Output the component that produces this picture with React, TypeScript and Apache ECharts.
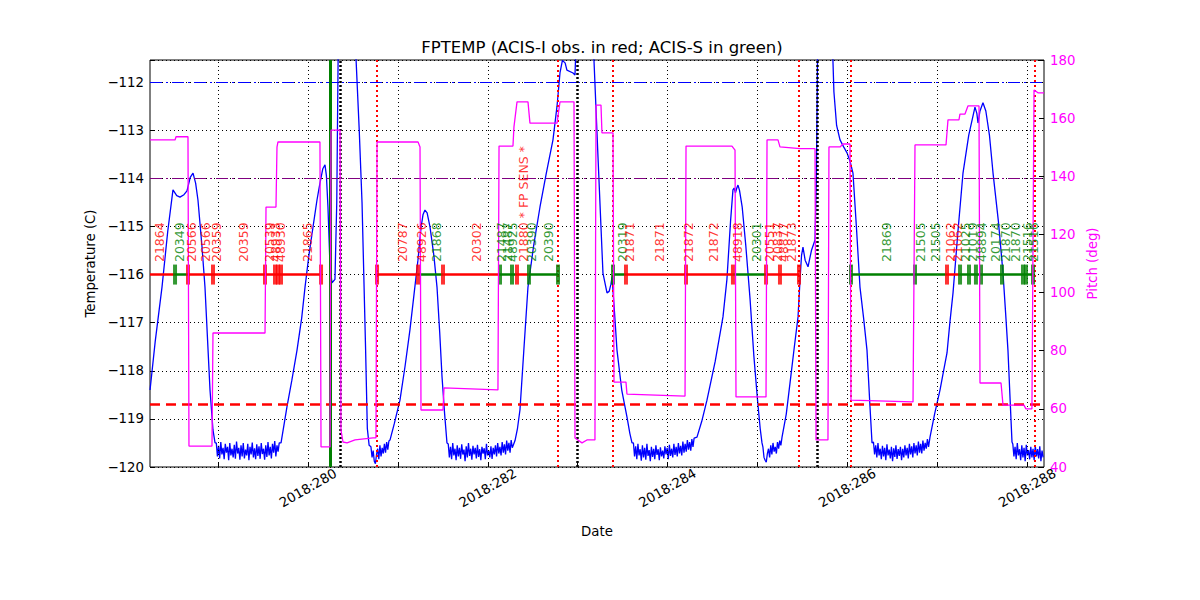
import React, { useEffect, useRef } from 'react';
import * as echarts from 'echarts';

// ---- axes ----
const X_MIN = 278.2425;
const X_MAX = 288.187;
const T_MIN = -120;
const T_MAX = -111.54;
const P_MIN = 40;
const P_MAX = 180;
const dayTicks = [279, 280, 281, 282, 283, 284, 285, 286, 287, 288];
const dayLabels = [280, 282, 284, 286, 288];

// ---- FPTEMP (smooth parts) [day, degC] ----
const tempKnots: [number, number][] = [
  [278.243, -118.4], [278.3, -117.4], [278.376, -116.26], [278.44, -115.1], [278.498, -114.24], [278.54, -114.36],
  [278.576, -114.39], [278.62, -114.34], [278.654, -114.26], [278.69, -113.98], [278.721, -113.89], [278.75, -114.1],
  [278.776, -114.45], [278.82, -115.4], [278.854, -116.26], [278.91, -118.4], [278.943, -119.23], [278.966, -119.5],
  [279.7, -119.5], [279.766, -118.75], [279.82, -118.2], [279.878, -117.57], [279.93, -116.9], [279.967, -116.26],
  [280.01, -115.6], [280.056, -115.01], [280.1, -114.45], [280.133, -114.1], [280.165, -113.8], [280.189, -113.72],
  [280.205, -113.95], [280.222, -114.59], [280.245, -115.84], [280.267, -116.17], [280.3, -116.1], [280.32, -114.5],
  [280.335, -111.5], [280.35, -110.0], [280.45, -109.0], [280.52, -110.5], [280.534, -111.5], [280.57, -113.0],
  [280.601, -114.5], [280.64, -117.5], [280.66, -119.2], [280.68, -119.55],
  [280.912, -119.44], [280.96, -119.1], [281.023, -118.61], [281.08, -117.9], [281.134, -117.15], [281.18, -116.4],
  [281.223, -115.7], [281.257, -115.03], [281.28, -114.75], [281.301, -114.66], [281.325, -114.72], [281.357, -115.01],
  [281.4, -115.6], [281.435, -116.26], [281.465, -117.2], [281.491, -118.13], [281.52, -118.9], [281.546, -119.5],
  [282.303, -119.45], [282.33, -119.2], [282.358, -118.81], [282.4, -117.6], [282.447, -116.26], [282.51, -115.4],
  [282.581, -114.59], [282.65, -113.9], [282.725, -113.2], [282.77, -112.5], [282.803, -111.81], [282.83, -111.55],
  [282.86, -111.6], [282.88, -111.75], [282.948, -111.81], [282.97, -111.85], [282.985, -111.0], [283.0, -110.0],
  [283.1, -109.5], [283.17, -110.5], [283.181, -111.54], [283.226, -113.56], [283.281, -115.97], [283.326, -116.38],
  [283.35, -116.35], [283.37, -116.2], [283.382, -116.05], [283.41, -116.8], [283.437, -117.57], [283.49, -118.4],
  [283.548, -118.96], [283.58, -119.3], [283.604, -119.5],
  [284.327, -119.38], [284.38, -119.05], [284.438, -118.61], [284.53, -117.8], [284.616, -116.88], [284.66, -116.1],
  [284.7, -114.9], [284.727, -114.24], [284.74, -114.2], [284.755, -114.3], [284.77, -114.2], [284.783, -114.14],
  [284.8, -114.25], [284.83, -114.6], [284.87, -115.4], [284.917, -116.5], [284.96, -117.7], [285.0, -118.6],
  [285.03, -119.2], [285.05, -119.5],
  [285.273, -119.38], [285.32, -118.9], [285.362, -118.25], [285.41, -117.5], [285.451, -116.88], [285.473, -116.11],
  [285.49, -115.6], [285.506, -115.43], [285.53, -115.7], [285.562, -115.84], [285.6, -115.5], [285.64, -115.28],
  [285.655, -114.0], [285.67, -111.0], [285.7, -109.5], [285.8, -109.5], [285.83, -111.0], [285.85, -112.2],
  [285.88, -112.9], [285.918, -113.2], [285.96, -113.35], [285.996, -113.47], [286.03, -113.65], [286.062, -113.89],
  [286.1, -115.0], [286.14, -116.26], [286.18, -116.9], [286.218, -117.57], [286.25, -118.7], [286.274, -119.5],
  [286.919, -119.38], [286.97, -118.9], [287.03, -118.4], [287.07, -118.0], [287.108, -117.63], [287.14, -117.0],
  [287.175, -116.38], [287.23, -115.1], [287.286, -113.89], [287.35, -113.1], [287.419, -112.52], [287.44, -112.65],
  [287.453, -112.85], [287.475, -112.6], [287.508, -112.43], [287.54, -112.6], [287.58, -113.1], [287.62, -113.89],
  [287.68, -114.9], [287.731, -115.97], [287.76, -116.8], [287.786, -117.57], [287.81, -118.6], [287.831, -119.48],
];

// ---- FPTEMP (noisy cold parts), one reading every NOISE_STEP day from each start day ----
const NOISE_STEP = 0.0125;
const noiseA_start = 278.98;
const noiseA = [
  -119.5, -119.78, -119.56, -119.82, -119.48, -119.74, -119.6, -119.84, -119.52, -119.7,
  -119.58, -119.86, -119.5, -119.76, -119.62, -119.8, -119.54, -119.83, -119.47, -119.72,
  -119.6, -119.85, -119.55, -119.78, -119.5, -119.82, -119.64, -119.76, -119.52, -119.86,
  -119.58, -119.74, -119.49, -119.8, -119.61, -119.84, -119.53, -119.77, -119.57, -119.83,
  -119.5, -119.73, -119.62, -119.85, -119.55, -119.79, -119.48, -119.76, -119.58, -119.82,
  -119.52, -119.7, -119.46, -119.78, -119.55, -119.68, -119.5,
];
const noiseB_start = 280.7;
const noiseB = [-119.58, -119.8, -119.66, -119.88, -119.93, -119.74, -119.62, -119.84, -119.55, -119.78, -119.6, -119.72, -119.52, -119.7, -119.48, -119.64, -119.46];
const noiseC_start = 281.56;
const noiseC = [
  -119.52, -119.8, -119.58, -119.84, -119.5, -119.76, -119.62, -119.86, -119.55, -119.78,
  -119.6, -119.83, -119.53, -119.74, -119.64, -119.88, -119.57, -119.8, -119.5, -119.77,
  -119.62, -119.85, -119.56, -119.74, -119.6, -119.82, -119.54, -119.79, -119.63, -119.86,
  -119.58, -119.72, -119.61, -119.84, -119.52, -119.76, -119.66, -119.8, -119.57, -119.83,
  -119.6, -119.74, -119.55, -119.78, -119.5, -119.72, -119.58, -119.76, -119.48, -119.7,
  -119.53, -119.74, -119.45, -119.66, -119.5, -119.7, -119.44, -119.6,
];
const noiseD_start = 283.62;
const noiseD = [
  -119.5, -119.78, -119.57, -119.84, -119.52, -119.76, -119.63, -119.87, -119.55, -119.8,
  -119.6, -119.85, -119.52, -119.77, -119.65, -119.88, -119.58, -119.79, -119.62, -119.84,
  -119.55, -119.75, -119.63, -119.86, -119.59, -119.78, -119.66, -119.82, -119.57, -119.74,
  -119.6, -119.84, -119.54, -119.77, -119.62, -119.8, -119.52, -119.75, -119.58, -119.78,
  -119.5, -119.72, -119.56, -119.76, -119.47, -119.7, -119.52, -119.68, -119.44, -119.64,
  -119.48, -119.66, -119.42, -119.58, -119.4,
];
const noiseE_start = 285.06;
const noiseE = [-119.58, -119.8, -119.86, -119.9, -119.72, -119.62, -119.8, -119.55, -119.74, -119.5, -119.68, -119.58, -119.72, -119.48, -119.62, -119.45, -119.55];
const noiseF_start = 286.29;
const noiseF = [
  -119.48, -119.74, -119.55, -119.8, -119.5, -119.76, -119.62, -119.84, -119.56, -119.78,
  -119.6, -119.86, -119.53, -119.76, -119.64, -119.82, -119.58, -119.88, -119.61, -119.79,
  -119.55, -119.83, -119.63, -119.77, -119.58, -119.86, -119.62, -119.8, -119.55, -119.76,
  -119.6, -119.82, -119.52, -119.74, -119.57, -119.8, -119.5, -119.72, -119.55, -119.76,
  -119.47, -119.7, -119.52, -119.72, -119.45, -119.66, -119.5, -119.62, -119.42, -119.58,
];
const noiseG_start = 287.84;
const noiseG = [
  -119.52, -119.78, -119.58, -119.84, -119.5, -119.76, -119.63, -119.86, -119.55, -119.8,
  -119.6, -119.88, -119.54, -119.76, -119.65, -119.84, -119.58, -119.8, -119.62, -119.86,
  -119.56, -119.78, -119.63, -119.82, -119.57, -119.88, -119.66, -119.8,
];

// ---- Pitch [day, deg] ----
const pitchData: [number, number][] = [
  [278.243, 152.5], [278.521, 152.5], [278.532, 153.6], [278.665, 153.6], [278.676, 47.2], [278.932, 47.2],
  [278.943, 86.1], [279.522, 86.1], [279.533, 129.4], [279.644, 129.4], [279.655, 150], [279.666, 151.8],
  [280.133, 151.8], [280.145, 46.9], [280.245, 46.9], [280.256, 155.9], [280.356, 155.9], [280.367, 52.7],
  [280.389, 48.6], [280.434, 48.3], [280.523, 49.3], [280.723, 50.0], [280.756, 50.0], [280.768, 151.8],
  [281.224, 151.8], [281.246, 150.1], [281.257, 59.6], [281.502, 59.6], [281.513, 67.2], [282.113, 66.5],
  [282.125, 150.4], [282.28, 150.4], [282.291, 157.0], [282.325, 165.6], [282.447, 165.6], [282.469, 158.3],
  [282.77, 158.3], [282.803, 165.6], [282.959, 165.6], [282.97, 50.0], [283.048, 48.3], [283.103, 49.3],
  [283.192, 49.3], [283.204, 164.5], [283.259, 164.5], [283.27, 154.9], [283.393, 154.9], [283.404, 69.2],
  [283.537, 69.2], [283.548, 65.1], [284.194, 64.4], [284.205, 150.4], [284.716, 150.4], [284.75, 149.0],
  [284.761, 64.1], [285.095, 64.1], [285.106, 152.5], [285.228, 152.5], [285.25, 150.1], [285.473, 149.5],
  [285.64, 149.5], [285.651, 49.3], [285.784, 49.3], [285.795, 150.1], [285.918, 150.1], [285.951, 151.1],
  [286.029, 151.1], [286.04, 63.0], [286.73, 62.4], [286.752, 150.8], [287.097, 150.8], [287.119, 159.4],
  [287.241, 159.4], [287.252, 161.4], [287.308, 161.4], [287.341, 164.2], [287.464, 164.2], [287.475, 68.9],
  [287.709, 68.9], [287.731, 61.3], [287.964, 61.3], [287.986, 60.0], [288.053, 60.0], [288.076, 169.7],
  [288.12, 168.7], [288.187, 168.7],
];

// ---- events / reference lines ----
const greenEvents = [280.245];
const blackDottedEvents = [280.356, 283.003, 285.662];
const redDottedEvents = [280.756, 282.781, 283.393, 285.462, 286.04, 288.076];
const T_BLUE_LIMIT = -112;
const T_PURPLE_LIMIT = -114;
const T_RED_LIMIT = -118.7;

// ---- observations band ----
const BAND_T = -116;
const LABEL_T = -115.74;
const redSegments: [number, number][] = [
  [278.2425, 278.521], [278.665, 280.145], [280.768, 281.224], [281.502, 282.136], [282.325, 282.458],
  [283.537, 284.727], [285.095, 285.462], [287.108, 287.253],
];
const greenSegments: [number, number][] = [
  [278.521, 278.665], [281.224, 281.502], [282.136, 282.325], [282.458, 282.781], [283.393, 283.537],
  [284.727, 285.095], [286.04, 287.108], [287.253, 288.065],
];
const redBars = [278.665, 278.943, 279.522, 279.633, 279.666, 279.7, 280.145, 280.768, 281.224, 281.502, 282.325,
  283.537, 284.205, 284.727, 285.095, 285.25, 285.462, 287.108];
const greenBars = [278.521, 282.136, 282.269, 282.458, 282.781, 283.393, 286.04, 286.752, 287.253, 287.353, 287.43,
  287.486, 287.72, 287.953, 287.987, 288.065];
const obsLabels: [number, string, string][] = [
  [278.343, '21864', 'r'], [278.576, '20349', 'g'], [278.699, '20566', 'r'], [278.865, '20566', 'r'],
  [278.977, '20359', 'r'], [279.277, '20359', 'r'], [279.577, '20539', 'r'], [279.644, '48933', 'r'],
  [279.689, '48930', 'r'], [280.0, '21865', 'r'],
  [281.046, '20787', 'r'], [281.268, '48926', 'r'], [281.424, '21868', 'g'], [281.869, '20302', 'r'],
  [282.158, '21487', 'g'], [282.214, '21487', 'g'], [282.28, '48925', 'g'], [282.392, '21880 * FP SENS *', 'r'],
  [282.481, '20390', 'g'], [282.67, '20390', 'g'],
  [283.493, '20319', 'g'], [283.571, '21871', 'r'], [283.915, '21871', 'r'], [284.238, '21872', 'r'],
  [284.516, '21872', 'r'], [284.783, '48918', 'r'], [284.994, '20301', 'g'], [285.139, '20551', 'r'],
  [285.217, '20837', 'r'], [285.284, '48877', 'r'], [285.373, '21873', 'r'],
  [286.44, '21869', 'g'], [286.808, '21505', 'g'], [286.975, '21505', 'g'], [287.152, '21062', 'r'],
  [287.23, '21062', 'r'], [287.319, '21025', 'g'], [287.397, '21019', 'g'], [287.497, '48894', 'g'],
  [287.642, '20174', 'g'], [287.764, '21870', 'g'], [287.875, '21870', 'g'], [287.998, '21516', 'g'],
  [288.065, '21516', 'g'],
];

const RED = '#ff0000';
const GREEN = '#008000';
const BLUE = '#0000ff';
const MAGENTA = '#ff00ff';
const FONT = 'DejaVu Sans';

function buildTemp(): [number, number][] {
  const pts: [number, number][] = tempKnots.slice();
  const segs: [number, number[]][] = [
    [noiseA_start, noiseA], [noiseB_start, noiseB], [noiseC_start, noiseC], [noiseD_start, noiseD],
    [noiseE_start, noiseE], [noiseF_start, noiseF], [noiseG_start, noiseG],
  ];
  segs.forEach(([s, vals]) => vals.forEach((v, i) => pts.push([+(s + i * NOISE_STEP).toFixed(4), v])));
  pts.sort((a, b) => a[0] - b[0]);
  return pts;
}

export default function App() {
  const ref = useRef<HTMLDivElement>(null);
  useEffect(() => {
    const chart = echarts.init(ref.current!, null, { renderer: 'svg' });
    const minus = (s: string) => s.replace('-', '\u2212');
    const option: any = {
      animation: false,
      backgroundColor: '#fff',
      textStyle: { fontFamily: FONT },
      title: {
        text: 'FPTEMP (ACIS-I obs. in red; ACIS-S in green)',
        left: 597, top: 34, textAlign: 'center',
        textStyle: { fontFamily: FONT, fontSize: 16.5, fontWeight: 'normal', color: '#000' },
      },
      grid: { left: 150, right: 156, top: 60, bottom: 133, show: true, borderColor: '#000', borderWidth: 1, backgroundColor: 'transparent' },
      xAxis: {
        type: 'value', min: X_MIN, max: X_MAX,
        axisLine: { show: false },
        splitLine: { show: false },
        axisTick: { show: true, inside: true, length: 5, customValues: dayTicks, lineStyle: { color: '#000' } },
        axisLabel: {
          customValues: dayLabels, rotate: 30, align: 'center', verticalAlign: 'middle', margin: 21,
          formatter: (v: number) => `2018:${Math.round(v)}`, fontSize: 13.3, color: '#000', fontFamily: FONT,
        },
        name: 'Date', nameLocation: 'middle', nameGap: 58,
        nameTextStyle: { fontSize: 13.3, color: '#000', fontFamily: FONT },
      },
      yAxis: [
        {
          type: 'value', min: T_MIN, max: T_MAX, interval: 1,
          axisLine: { show: false },
          axisTick: { show: true, inside: true, length: 5, lineStyle: { color: '#000' } },
          splitLine: { show: true, lineStyle: { color: '#000', type: [1, 3], width: 1 } },
          axisLabel: {
            formatter: (v: number) => (Math.abs(v - Math.round(v)) < 1e-6 ? minus(String(Math.round(v))) : ''),
            fontSize: 13.3, color: '#000', margin: 6, fontFamily: FONT,
          },
          name: 'Temperature (C)', nameLocation: 'middle', nameGap: 48,
          nameTextStyle: { fontSize: 13.3, color: '#000', fontFamily: FONT },
        },
        {
          type: 'value', position: 'right', min: P_MIN, max: P_MAX, interval: 20,
          axisLine: { show: false },
          axisTick: { show: true, inside: true, length: 5, lineStyle: { color: '#000' } },
          splitLine: { show: false },
          axisLabel: { fontSize: 13.3, color: MAGENTA, margin: 6, fontFamily: FONT },
          name: 'Pitch (deg)', nameLocation: 'middle', nameGap: 36,
          nameTextStyle: { fontSize: 13.3, color: MAGENTA, fontFamily: FONT },
        },
      ],
      series: [
        {
          type: 'line', data: [], z: 1, silent: true,
          markLine: {
            silent: true, symbol: 'none', label: { show: false }, animation: false,
            lineStyle: { color: '#000', type: [1, 3], width: 1 },
            data: dayTicks.map((d) => ({ xAxis: d })),
          },
        },
        {
          type: 'line', data: [], z: 2, silent: true, yAxisIndex: 0,
          markLine: {
            silent: true, symbol: 'none', label: { show: false }, animation: false,
            data: [
              { yAxis: T_BLUE_LIMIT, lineStyle: { color: BLUE, type: [12, 4, 2, 4], width: 1.2 } },
              { yAxis: T_PURPLE_LIMIT, lineStyle: { color: '#800080', type: [12, 4, 2, 4], width: 1.2 } },
              { yAxis: T_RED_LIMIT, lineStyle: { color: RED, type: [10, 6], width: 2.5 } },
            ],
          },
        },
        {
          type: 'line', name: 'FPTEMP', yAxisIndex: 0, data: buildTemp(), showSymbol: false, symbol: 'none',
          lineStyle: { color: BLUE, width: 1.3 }, z: 3, clip: true,
        },
        {
          type: 'line', data: [], z: 4, silent: true, yAxisIndex: 0,
          markLine: {
            silent: true, symbol: 'none', label: { show: false }, animation: false,
            data: [
              ...redSegments.map(([a, b]) => [{ coord: [a, BAND_T], lineStyle: { color: RED, width: 2.5, type: 'solid' } }, { coord: [b, BAND_T] }]),
              ...greenSegments.map(([a, b]) => [{ coord: [a, BAND_T], lineStyle: { color: GREEN, width: 2.5, type: 'solid' } }, { coord: [b, BAND_T] }]),
            ],
          },
        },
        {
          type: 'scatter', yAxisIndex: 0, symbol: 'rect', symbolSize: [4, 20], z: 5, silent: true,
          itemStyle: { color: RED }, data: redBars.map((d) => [d, BAND_T]),
        },
        {
          type: 'scatter', yAxisIndex: 0, symbol: 'rect', symbolSize: [4, 20], z: 5, silent: true,
          itemStyle: { color: GREEN }, data: greenBars.map((d) => [d, BAND_T]),
        },
        {
          type: 'line', data: [], z: 6, silent: true, yAxisIndex: 0,
          markLine: {
            silent: true, symbol: 'none', label: { show: false }, animation: false,
            data: [
              ...redDottedEvents.map((d) => ({ xAxis: d, lineStyle: { color: RED, type: [2, 3], width: 2 } })),
              ...blackDottedEvents.map((d) => ({ xAxis: d, lineStyle: { color: '#000', type: [2, 2], width: 2.5 } })),
              ...greenEvents.map((d) => ({ xAxis: d, lineStyle: { color: GREEN, type: 'solid', width: 3 } })),
            ],
          },
        },
        {
          type: 'line', name: 'Pitch', yAxisIndex: 1, data: pitchData, showSymbol: false, symbol: 'none',
          lineStyle: { color: MAGENTA, width: 1.3 }, z: 7, clip: true,
        },
        {
          type: 'scatter', yAxisIndex: 0, symbolSize: 0, z: 8, silent: true,
          data: obsLabels.map(([d, text, c]) => ({
            value: [d, LABEL_T], name: text,
            label: { color: c === 'r' ? RED : GREEN },
          })),
          label: {
            show: true, position: 'inside', formatter: '{b}', rotate: 90, align: 'left', verticalAlign: 'middle',
            fontSize: 12.5, fontFamily: FONT,
          },
        },
      ],
    };
    chart.setOption(option);
    return () => chart.dispose();
  }, []);
  return <div ref={ref} style={{ position: 'fixed', left: 0, top: 0, width: 1200, height: 600, background: '#fff' }} />;
}
